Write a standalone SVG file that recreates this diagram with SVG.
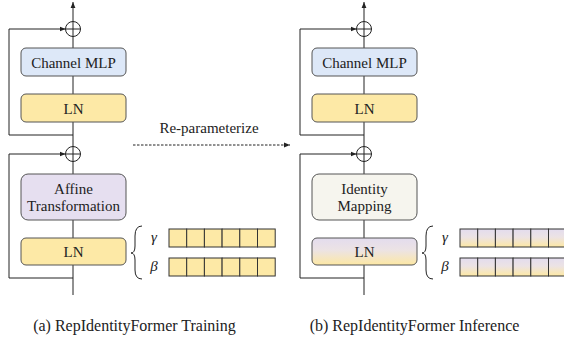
<svg xmlns="http://www.w3.org/2000/svg" width="564" height="339" viewBox="0 0 564 339">
<style>
.ln{stroke:#222;stroke-width:1;fill:none}
.box{stroke:#555;stroke-width:1}
.t{font-size:15px;text-anchor:middle;fill:#222}
.g{font-size:15px;font-style:italic;text-anchor:middle;fill:#222}
.cap{font-size:16px;text-anchor:middle;fill:#222}
.sq{stroke:#333;stroke-width:1}
</style>
<defs>
<linearGradient id="grad" x1="0" y1="0" x2="0" y2="1">
<stop offset="0" stop-color="#e3dcee"/>
<stop offset="0.45" stop-color="#ece3e4"/>
<stop offset="1" stop-color="#fde8a4"/>
</linearGradient>
<marker id="ah" viewBox="0 0 10 10" refX="10" refY="5" markerWidth="6" markerHeight="6" orient="auto" markerUnits="userSpaceOnUse">
<path d="M0,1 L10,5 L0,9 z" fill="#222"/>
</marker>
<g id="sqrow">
<rect x="0" y="0" width="17.7" height="18"/>
<rect x="17.7" y="0" width="17.7" height="18"/>
<rect x="35.4" y="0" width="17.7" height="18"/>
<rect x="53.1" y="0" width="17.7" height="18"/>
<rect x="70.8" y="0" width="17.7" height="18"/>
<rect x="88.5" y="0" width="17.7" height="18"/>
</g>
</defs>

<g id="connectors">
<line class="ln" x1="73" y1="295" x2="73" y2="36"/>
<line class="ln" x1="73" y1="21" x2="73" y2="2" marker-end="url(#ah)"/>
<polyline class="ln" points="73,278 9,278 9,154 65.5,154" marker-end="url(#ah)"/>
<polyline class="ln" points="73,135 9,135 9,29 65.5,29" marker-end="url(#ah)"/>
<path class="ln" d="M142,226 Q135,226 135,236 L135,246 Q135,253 131,253 Q135,253 135,260 L135,270 Q135,279 142,279"/>
<line class="ln" x1="364" y1="295" x2="364" y2="36"/>
<line class="ln" x1="364" y1="21" x2="364" y2="2" marker-end="url(#ah)"/>
<polyline class="ln" points="364,278 300,278 300,154 356.5,154" marker-end="url(#ah)"/>
<polyline class="ln" points="364,135 300,135 300,29 356.5,29" marker-end="url(#ah)"/>
<path class="ln" d="M433,226 Q426,226 426,236 L426,246 Q426,253 422,253 Q426,253 426,260 L426,270 Q426,279 433,279"/>
<line class="ln" x1="133" y1="145" x2="290" y2="145" stroke-dasharray="2.5,1.5" marker-end="url(#ah)"/>
</g>

<g id="add1">
<circle cx="73" cy="29" r="7.5" fill="#fff" stroke="#222"/>
<line class="ln" x1="65.5" y1="29" x2="80.5" y2="29"/><line class="ln" x1="73" y1="21.5" x2="73" y2="36.5"/>
</g>
<g id="add2">
<circle cx="73" cy="154" r="7.5" fill="#fff" stroke="#222"/>
<line class="ln" x1="65.5" y1="154" x2="80.5" y2="154"/><line class="ln" x1="73" y1="146.5" x2="73" y2="161.5"/>
</g>
<g id="add3">
<circle cx="364" cy="29" r="7.5" fill="#fff" stroke="#222"/>
<line class="ln" x1="356.5" y1="29" x2="371.5" y2="29"/><line class="ln" x1="364" y1="21.5" x2="364" y2="36.5"/>
</g>
<g id="add4">
<circle cx="364" cy="154" r="7.5" fill="#fff" stroke="#222"/>
<line class="ln" x1="356.5" y1="154" x2="371.5" y2="154"/><line class="ln" x1="364" y1="146.5" x2="364" y2="161.5"/>
</g>

<g id="mlp-a">
<rect class="box" x="21" y="48" width="105" height="28" rx="5" fill="#dde8f8"/>
<text class="t" x="73.5" y="67.5" font-family="Liberation Serif">Channel MLP</text>
</g>
<g id="ln1-a">
<rect class="box" x="21" y="94" width="105" height="28" rx="5" fill="#fde9a6"/>
<text class="t" x="73.5" y="113.5" font-family="Liberation Serif">LN</text>
</g>
<g id="affine">
<rect class="box" x="21" y="174" width="105" height="46" rx="7" fill="#e6dff0"/>
<text class="t" x="73.5" y="193.5" font-family="Liberation Serif">Affine</text>
<text class="t" x="73.5" y="211" font-family="Liberation Serif">Transformation</text>
</g>
<g id="ln2-a">
<rect class="box" x="21" y="238" width="105" height="27" rx="5" fill="#fde9a6"/>
<text class="t" x="73.5" y="257" font-family="Liberation Serif">LN</text>
</g>
<g id="params-a">
<text class="g" x="154" y="242" font-family="Liberation Serif">γ</text>
<text class="g" x="154" y="271" font-family="Liberation Serif">β</text>
<use href="#sqrow" x="169" y="229" class="sq" fill="#fde9a6"/>
<use href="#sqrow" x="169" y="258" class="sq" fill="#fde9a6"/>
</g>

<g id="mlp-b">
<rect class="box" x="312" y="48" width="105" height="28" rx="5" fill="#dde8f8"/>
<text class="t" x="364.5" y="67.5" font-family="Liberation Serif">Channel MLP</text>
</g>
<g id="ln1-b">
<rect class="box" x="312" y="94" width="105" height="28" rx="5" fill="#fde9a6"/>
<text class="t" x="364.5" y="113.5" font-family="Liberation Serif">LN</text>
</g>
<g id="identity">
<rect class="box" x="312" y="174" width="105" height="46" rx="7" fill="#f6f5ee"/>
<text class="t" x="364.5" y="193.5" font-family="Liberation Serif">Identity</text>
<text class="t" x="364.5" y="211" font-family="Liberation Serif">Mapping</text>
</g>
<g id="ln2-b">
<rect class="box" x="312" y="238" width="105" height="27" rx="5" fill="url(#grad)"/>
<text class="t" x="364.5" y="257" font-family="Liberation Serif">LN</text>
</g>
<g id="params-b">
<text class="g" x="445" y="242" font-family="Liberation Serif">γ</text>
<text class="g" x="445" y="271" font-family="Liberation Serif">β</text>
<use href="#sqrow" x="460" y="229" class="sq" fill="url(#grad)"/>
<use href="#sqrow" x="460" y="258" class="sq" fill="url(#grad)"/>
</g>

<g id="reparam-label">
<text class="t" x="209" y="133" font-family="Liberation Serif">Re-parameterize</text>
</g>
<text class="cap" x="134.5" y="331" font-family="Liberation Serif">(a) RepIdentityFormer Training</text>
<text class="cap" x="414.5" y="331" font-family="Liberation Serif">(b) RepIdentityFormer Inference</text>
</svg>
